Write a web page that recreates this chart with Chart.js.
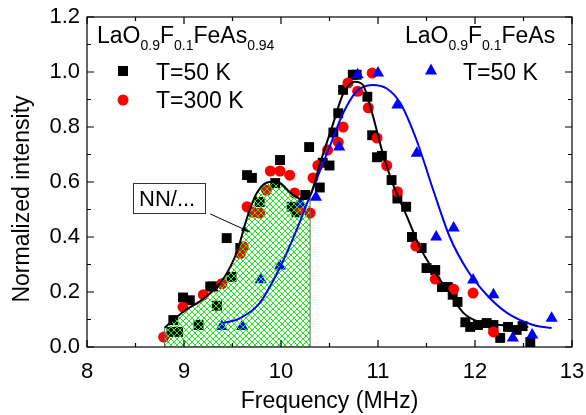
<!DOCTYPE html>
<html>
<head>
<meta charset="utf-8">
<script src="https://cdn.jsdelivr.net/npm/chart.js@4.4.1/dist/chart.umd.min.js"></script>
<style>
  body { margin: 0; background: #fff; }
</style>
</head>
<body>
<canvas id="chart" width="586" height="415"></canvas>
<script>
const FONT = "'Liberation Sans', Arial, sans-serif";

// LaO0.9F0.1FeAs0.94, T=50 K (squares)
const sqX = [8.87, 8.89, 8.94, 8.99, 9.06, 9.15, 9.27, 9.30, 9.34, 9.44, 9.49, 9.58, 9.65, 9.70, 9.78, 9.94, 9.99,
  10.11, 10.16, 10.25, 10.29, 10.40, 10.43, 10.50, 10.54, 10.59, 10.64, 10.74, 10.78, 10.89, 10.94, 10.99, 11.04,
  11.14, 11.20, 11.29, 11.35, 11.45, 11.50, 11.59, 11.66, 11.72, 11.77, 11.82, 11.90, 11.95, 12.03, 12.12, 12.19,
  12.26, 12.34, 12.43, 12.49, 12.57];
const sqY = [0.055, 0.098, 0.055, 0.18, 0.17, 0.08, 0.22, 0.22, 0.15, 0.396, 0.255, 0.36, 0.625, 0.615, 0.527, 0.596, 0.68,
  0.51, 0.49, 0.553, 0.727, 0.58, 0.67, 0.66, 0.78, 0.85, 0.935, 0.99, 0.99, 0.91, 0.77, 0.69, 0.695,
  0.607, 0.54, 0.51, 0.40, 0.36, 0.287, 0.28, 0.218, 0.218, 0.19, 0.164, 0.09, 0.073, 0.08, 0.087, 0.08,
  0.033, 0.073, 0.062, 0.076, 0.018];

// LaO0.9F0.1FeAs0.94, T=300 K (circles)
const circX = [8.79, 8.99, 9.20, 9.39, 9.58, 9.61, 9.65, 9.71, 9.78, 9.85, 9.89, 9.99, 10.09, 10.14, 10.20, 10.30,
  10.33, 10.38, 10.48, 10.59, 10.64, 10.69, 10.79, 10.90, 10.94, 10.99, 11.09, 11.20, 11.39, 11.59, 11.78, 11.98, 12.19];
const circY = [0.036, 0.145, 0.19, 0.23, 0.34, 0.365, 0.51, 0.49, 0.487, 0.57, 0.64, 0.64, 0.625, 0.56, 0.505, 0.487,
  0.615, 0.66, 0.716, 0.745, 0.80, 0.96, 0.93, 0.87, 0.996, 0.76, 0.66, 0.565, 0.367, 0.247, 0.21, 0.196, 0.055];

// LaO0.9F0.1FeAs, T=50 K (triangles)
const triX = [9.39, 9.60, 9.79, 9.99, 10.20, 10.36, 10.60, 10.79, 11.00, 11.20, 11.40, 11.60, 11.78, 11.98, 12.19, 12.39, 12.59, 12.79];
const triY = [0.075, 0.075, 0.245, 0.295, 0.52, 0.545, 0.727, 0.99, 0.996, 0.88, 0.705, 0.40, 0.433, 0.244, 0.19, 0.033, 0.044, 0.105];

// fitted curves
const blackFitX = [8.8, 9.0, 9.2, 9.4, 9.55, 9.65, 9.75, 9.88, 9.98, 10.1, 10.22, 10.3, 10.4, 10.54, 10.64, 10.76, 10.84,
  10.94, 11.04, 11.15, 11.3, 11.43, 11.57, 11.74, 11.88, 12.05, 12.26, 12.55];
const blackFitY = [0.07, 0.13, 0.175, 0.245, 0.35, 0.47, 0.56, 0.60, 0.597, 0.56, 0.537, 0.55, 0.665, 0.815, 0.92, 0.965, 0.955,
  0.85, 0.716, 0.596, 0.473, 0.364, 0.28, 0.196, 0.124, 0.09, 0.08, 0.073];
const blueFitX = [9.4, 9.58, 9.78, 9.99, 10.16, 10.31, 10.5, 10.64, 10.78, 10.94, 11.09, 11.23, 11.4, 11.57, 11.74, 11.92,
  12.12, 12.33, 12.6, 12.79];
const blueFitY = [0.087, 0.105, 0.16, 0.29, 0.425, 0.56, 0.727, 0.85, 0.93, 0.953, 0.94, 0.887, 0.75, 0.57, 0.40, 0.28,
  0.19, 0.124, 0.08, 0.069];

// shaded (NN) window
const nnFrom = 8.8, nnTo = 10.3;

const pts = (xs, ys) => xs.map((x, i) => ({ x: x, y: ys[i] }));
const nnX = blackFitX.filter(x => x >= nnFrom && x <= nnTo);
const nnY = blackFitY.filter((y, i) => blackFitX[i] >= nnFrom && blackFitX[i] <= nnTo);

// green cross-hatch
const tile = document.createElement('canvas');
tile.width = 6; tile.height = 6;
const tc = tile.getContext('2d');
tc.strokeStyle = '#22e622';
tc.lineWidth = 1;
tc.beginPath();
tc.moveTo(-1, -1); tc.lineTo(7, 7);
tc.moveTo(7, -1); tc.lineTo(-1, 7);
tc.stroke();

const canvas = document.getElementById('chart');
const ctx = canvas.getContext('2d');
const hatch = ctx.createPattern(tile, 'repeat');

function drawFormula(c, parts, x, y) {
  parts.forEach(([txt, sub]) => {
    c.font = (sub ? '14px ' : '23px ') + FONT;
    c.fillText(txt, x, sub ? y + 7 : y);
    x += c.measureText(txt).width;
  });
}

const decor = {
  id: 'decor',
  afterDraw(chart) {
    const c = chart.ctx;
    const { left, right, top, bottom } = chart.chartArea;
    const xs = chart.scales.x, ys = chart.scales.y;
    c.save();
    c.strokeStyle = '#000';
    c.lineWidth = 1.2;
    c.strokeRect(left, top, right - left, bottom - top);

    // inward ticks on all four sides
    c.beginPath();
    for (let i = 0; i <= 10; i++) {
      const px = xs.getPixelForValue(8 + i * 0.5);
      const len = i % 2 === 0 ? 7 : 4;
      c.moveTo(px, bottom); c.lineTo(px, bottom - len);
      c.moveTo(px, top); c.lineTo(px, top + len);
    }
    for (let i = 0; i <= 12; i++) {
      const py = ys.getPixelForValue(i * 0.1);
      const len = i % 2 === 0 ? 7 : 4;
      c.moveTo(left, py); c.lineTo(left + len, py);
      c.moveTo(right, py); c.lineTo(right - len, py);
    }
    c.stroke();

    // axis titles
    c.fillStyle = '#000';
    c.font = '23px ' + FONT;
    c.textAlign = 'center';
    c.textBaseline = 'alphabetic';
    c.fillText('Frequency (MHz)', (left + right) / 2, 408);
    c.save();
    c.translate(29, 199);
    c.rotate(-Math.PI / 2);
    c.fillText('Normalized intensity', 0, 0);
    c.restore();

    // NN/... label with arrow
    c.textAlign = 'left';
    c.fillStyle = '#fff';
    c.fillRect(133, 183, 72, 30);
    c.strokeStyle = '#333';
    c.lineWidth = 1;
    c.strokeRect(133.5, 183.5, 72, 30);
    c.fillStyle = '#000';
    c.font = '22px ' + FONT;
    c.fillText('NN/...', 139, 206);
    const ax0 = xs.getPixelForValue(9.27), ay0 = ys.getPixelForValue(0.484);
    const ax1 = xs.getPixelForValue(9.68), ay1 = ys.getPixelForValue(0.418);
    c.strokeStyle = '#000';
    c.beginPath(); c.moveTo(ax0, ay0); c.lineTo(ax1, ay1); c.stroke();
    const ang = Math.atan2(ay1 - ay0, ax1 - ax0);
    c.beginPath();
    c.moveTo(ax1, ay1);
    c.lineTo(ax1 - 9 * Math.cos(ang - 0.3), ay1 - 9 * Math.sin(ang - 0.3));
    c.lineTo(ax1 - 9 * Math.cos(ang + 0.3), ay1 - 9 * Math.sin(ang + 0.3));
    c.closePath(); c.fill();

    // legends
    drawFormula(c, [['LaO', 0], ['0.9', 1], ['F', 0], ['0.1', 1], ['FeAs', 0], ['0.94', 1]], 97, 43);
    drawFormula(c, [['LaO', 0], ['0.9', 1], ['F', 0], ['0.1', 1], ['FeAs', 0]], 405, 43);
    c.font = '23px ' + FONT;
    c.fillText('T=50 K', 156, 80);
    c.fillText('T=300 K', 156, 108);
    c.fillText('T=50 K', 463, 80);
    c.fillRect(118, 66, 10, 10);
    c.fillStyle = '#ff0000';
    c.beginPath(); c.arc(123, 100, 5.5, 0, Math.PI * 2); c.fill();
    c.fillStyle = '#0000ff';
    c.beginPath(); c.moveTo(431, 63.5); c.lineTo(437, 74.5); c.lineTo(425, 74.5); c.closePath(); c.fill();
    c.restore();
  }
};

new Chart(ctx, {
  type: 'scatter',
  data: {
    datasets: [
      { type: 'line', data: pts(blackFitX, blackFitY), borderColor: '#000', borderWidth: 2, pointRadius: 0,
        cubicInterpolationMode: 'monotone', fill: false, order: 1 },
      { type: 'line', data: pts(blueFitX, blueFitY), borderColor: '#0000ff', borderWidth: 2, pointRadius: 0,
        cubicInterpolationMode: 'monotone', fill: false, order: 1 },
      { type: 'line', data: [{ x: nnFrom, y: 0 }, { x: nnFrom, y: nnY[0] }], borderColor: '#666', borderWidth: 1,
        pointRadius: 0, fill: false, order: 2 },
      { type: 'line', data: [{ x: nnTo, y: 0 }, { x: nnTo, y: nnY[nnY.length - 1] }], borderColor: '#666', borderWidth: 1,
        pointRadius: 0, fill: false, order: 2 },
      { type: 'line', data: pts(nnX, nnY), borderWidth: 0, borderColor: 'rgba(0,0,0,0)', pointRadius: 0,
        cubicInterpolationMode: 'monotone', fill: 'origin', backgroundColor: hatch, order: 2 },
      { data: pts(triX, triY), pointStyle: 'triangle', pointRadius: 7, backgroundColor: '#0000ff', borderWidth: 0, order: 3, clip: false },
      { data: pts(circX, circY), pointStyle: 'circle', pointRadius: 5.5, backgroundColor: '#ff0000', borderWidth: 0, order: 3, clip: false },
      { data: pts(sqX, sqY), pointStyle: 'rect', pointRadius: 7, backgroundColor: '#000', borderWidth: 0, order: 3, clip: false }
    ]
  },
  options: {
    responsive: false,
    animation: false,
    layout: { padding: { top: 17, right: 14, left: 0, bottom: 0 } },
    plugins: { legend: { display: false }, tooltip: { enabled: false } },
    scales: {
      x: {
        type: 'linear', min: 8, max: 13,
        grid: { display: false, drawTicks: false },
        border: { display: false },
        ticks: { stepSize: 1, autoSkip: false, maxRotation: 0, padding: 12, color: '#000', font: { size: 22, family: FONT } },
        afterFit(s) { s.height = 68; s.paddingLeft = 0; s.paddingRight = 0; }
      },
      y: {
        min: 0, max: 1.2,
        grid: { display: false, drawTicks: false },
        border: { display: false },
        ticks: { stepSize: 0.2, padding: 7, color: '#000', font: { size: 22, family: FONT },
          callback: v => v.toFixed(1) },
        afterFit(s) { s.width = 87; s.paddingTop = 0; s.paddingBottom = 0; }
      }
    }
  },
  plugins: [decor]
});
</script>
</body>
</html>
